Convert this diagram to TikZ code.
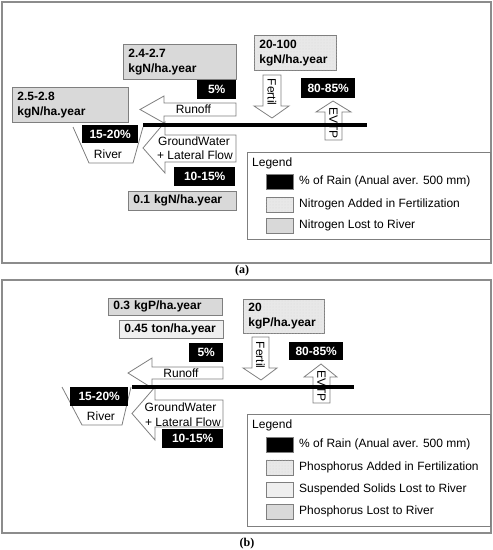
\documentclass[tikz,border=0pt]{standalone}
\usepackage{fontspec}
\setmainfont{Liberation Sans}
\newfontfamily\capfont{Liberation Serif}
\usetikzlibrary{patterns}
\definecolor{edge}{HTML}{7F7F7F}
\definecolor{frameedge}{HTML}{8C8C8C}
\definecolor{lostfill}{HTML}{D9D9D9}
\definecolor{ssfill}{HTML}{EFEFEF}
\definecolor{fertfill}{HTML}{E8E8E8}
\begin{document}
\begin{tikzpicture}[x=1pt,y=-1pt,
  panelframe/.style={draw=frameedge, line width=1.1pt},
  txt/.style={font=\fontsize{12}{15}\selectfont, inner sep=0pt},
  gbox/.style={draw=edge, line width=0.8pt, fill=lostfill, font=\bfseries\fontsize{12}{15}\selectfont,
    align=left, inner xsep=5pt, inner ysep=0pt, anchor=north west},
  ssbox/.style={gbox, fill=ssfill},
  fbox/.style={gbox, fill=fertfill, postaction={pattern=dots, pattern color=gray!30}},
  blk/.style={fill=black, text=white, font=\bfseries\fontsize{12}{15}\selectfont, inner sep=0pt, anchor=north west},
  arrowshape/.style={draw=edge, line width=0.8pt, fill=white},
  ground/.style={line width=4pt, black},
  riverline/.style={draw=edge, line width=0.8pt},
  swatch/.style={draw=edge, line width=0.8pt, anchor=north west, minimum width=27pt, minimum height=15pt, inner sep=0pt},
  legendbox/.style={draw=edge, line width=0.9pt, fill=white},
  captxt/.style={font=\capfont\bfseries\fontsize{12}{14}\selectfont, inner sep=0pt},
]
\useasboundingbox (0,0) rectangle (493,550);

% ================= Panel (a) =================
\draw[panelframe] (2,2) rectangle (491,263);

% arrows
\draw[arrowshape] (140,109.5) -- (164,96) -- (164,103) -- (236,103) -- (236,116) -- (164,116) -- (164,123) -- cycle;
\draw[arrowshape] (143,148) -- (165,122) -- (165,135) -- (236,135) -- (236,162) -- (165,162) -- (165,173) -- cycle;
\draw[arrowshape] (263,75) -- (281,75) -- (281,106) -- (289,106) -- (272,118) -- (254,106) -- (263,106) -- cycle;
\draw[arrowshape] (333,101) -- (351,112) -- (342,112) -- (342,140) -- (325,140) -- (325,112) -- (316,112) -- cycle;
% river
\draw[riverline] (73,127) -- (89,163) -- (133,163) -- (143,127);
% ground line
\draw[ground] (143,125) -- (367,125);

\node[gbox, text width=103pt, minimum height=35pt] (a24) at (123,44) {2.4-2.7\\kgN/ha.year};
\node[blk, minimum width=39pt, minimum height=19pt] (a5) at (197,80) {5\%};
\node[gbox, text width=106pt, minimum height=35pt] (a25) at (12,87) {2.5-2.8\\kgN/ha.year};
\node[blk, minimum width=56pt, minimum height=18pt] (a1520) at (82,125) {15-20\%};
\node[txt] (ariver) at (108,154) {River};
\node[txt] (arunoff) at (193.5,109.5) {Runoff};
\node[txt] (agw1) at (194,141) {GroundWater};
\node[txt] (agw2) at (195,155) {+ Lateral Flow};
\node[blk, minimum width=61pt, minimum height=19pt] (a1015) at (174,167) {10-15\%};
\node[gbox, text width=98pt, minimum height=19pt] (a01) at (128,191) {0.1 kgN/ha.year};
\node[fbox, text width=72pt, minimum height=35pt] (a20) at (254,35) {20-100\\kgN/ha.year};
\node[blk, minimum width=54pt, minimum height=20pt] (a8085) at (301,78) {80-85\%};
\node[txt, rotate=-90] (afertil) at (272,92) {Fertil};
\node[txt, rotate=-90] (aevtp) at (333.5,123) {EVTP};

% legend (a)
\draw[legendbox] (247,152) rectangle (490,239);
\node[txt, anchor=west] (aleg) at (252,163) {Legend};
\node[swatch, fill=black] (asw1) at (266,174) {};
\node[swatch, fill=fertfill, postaction={pattern=dots, pattern color=gray!30}] (asw2) at (266,197) {};
\node[swatch, fill=lostfill] (asw3) at (266,218) {};
\node[txt, anchor=west] (alt1) at (299,181.5) {\% of Rain (Anual aver. 500 mm)};
\node[txt, anchor=west] (alt2) at (299,204.5) {Nitrogen Added in Fertilization};
\node[txt, anchor=west] (alt3) at (299,225) {Nitrogen Lost to River};

\node[captxt] (capa) at (242,271) {(a)};

% ================= Panel (b) =================
\draw[panelframe] (2,280) rectangle (491,533);

\draw[arrowshape] (128,373) -- (152,358) -- (152,367) -- (223,367) -- (223,379) -- (152,379) -- (152,388) -- cycle;
\draw[arrowshape] (132,413.5) -- (155,387) -- (155,400) -- (223,400) -- (223,427) -- (155,427) -- (155,440) -- cycle;
\draw[arrowshape] (252,337) -- (269,337) -- (269,368) -- (277,368) -- (261,380) -- (243,368) -- (252,368) -- cycle;
\draw[arrowshape] (321,364) -- (337,377) -- (330,377) -- (330,403) -- (313,403) -- (313,377) -- (304,377) -- cycle;
\draw[riverline] (62,387) -- (82,425) -- (122,425) -- (131,387);
\draw[ground] (132,387) -- (354,387);

\node[gbox, text width=104pt, minimum height=17pt] (b03) at (108,298) {0.3 kgP/ha.year};
\node[ssbox, text width=94pt, minimum height=18pt] (b045) at (119,320) {0.45 ton/ha.year};
\node[blk, minimum width=34pt, minimum height=19pt] (b5) at (189,343) {5\%};
\node[blk, minimum width=58pt, minimum height=19pt] (b1520) at (70,387) {15-20\%};
\node[txt] (briver) at (101,416) {River};
\node[txt] (brunoff) at (181,373) {Runoff};
\node[txt] (bgw1) at (180.5,407) {GroundWater};
\node[txt] (bgw2) at (183,422) {+ Lateral Flow};
\node[blk, minimum width=61pt, minimum height=19pt] (b1015) at (162,429) {10-15\%};
\node[fbox, text width=71pt, minimum height=34pt] (b20) at (243,299) {20\\kgP/ha.year};
\node[blk, minimum width=54pt, minimum height=18pt] (b8085) at (289,342) {80-85\%};
\node[txt, rotate=-90] (bfertil) at (260.5,355) {Fertil};
\node[txt, rotate=-90] (bevtp) at (321.5,386) {EVTP};

% legend (b)
\draw[legendbox] (247,414) rectangle (490,526);
\node[txt, anchor=west] (bleg) at (252,425) {Legend};
\node[swatch, fill=black] (bsw1) at (266,437) {};
\node[swatch, fill=fertfill, postaction={pattern=dots, pattern color=gray!30}] (bsw2) at (266,459.5) {};
\node[swatch, fill=ssfill] (bsw3) at (266,482) {};
\node[swatch, fill=lostfill] (bsw4) at (266,503.5) {};
\node[txt, anchor=west] (blt1) at (299,444.5) {\% of Rain (Anual aver. 500 mm)};
\node[txt, anchor=west] (blt2) at (299,467) {Phosphorus Added in Fertilization};
\node[txt, anchor=west] (blt3) at (299,489.5) {Suspended Solids Lost to River};
\node[txt, anchor=west] (blt4) at (299,511) {Phosphorus Lost to River};

\node[captxt] (capb) at (247,544) {(b)};
\end{tikzpicture}
\end{document}
